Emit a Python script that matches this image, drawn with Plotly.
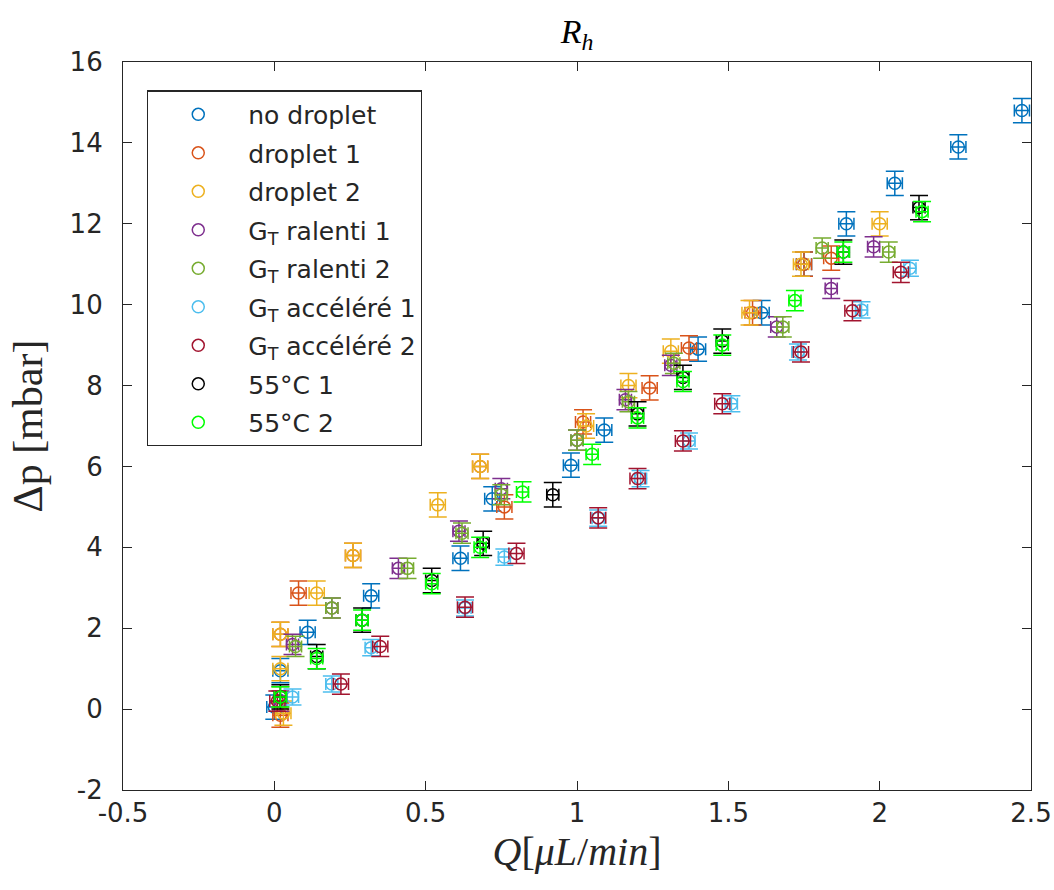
import plotly.graph_objects as go

names = ["no droplet", "droplet 1", "droplet 2", "G<sub>T</sub> ralenti 1", "G<sub>T</sub> ralenti 2",
         "G<sub>T</sub> accéléré 1", "G<sub>T</sub> accéléré 2", "55°C 1", "55°C 2"]
colors = ["#0072BD", "#D95319", "#EDB120", "#7E2F8E", "#77AC30", "#4DBEEE", "#A2142F", "#000000", "#00FF00"]

q_no = [0.0, 0.02, 0.11, 0.32, 0.615, 0.72, 0.98, 1.09, 1.40, 1.61, 1.75, 1.89, 2.05, 2.26, 2.47]
dp_no = [0.05, 0.95, 1.9, 2.8, 3.73, 5.2, 6.03, 6.9, 8.9, 9.8, 11.0, 12.0, 13.0, 13.9, 14.8]

q_d1 = [0.02, 0.02, 0.08, 0.26, 0.68, 0.76, 1.02, 1.24, 1.37, 1.58, 1.75, 1.84]
dp_d1 = [-0.15, 1.85, 2.87, 3.8, 6.0, 5.0, 7.1, 7.94, 8.93, 9.8, 11.0, 11.15]

q_d2 = [0.03, 0.02, 0.02, 0.14, 0.26, 0.54, 0.68, 1.03, 1.17, 1.31, 1.57, 1.74, 2.0]
dp_d2 = [-0.1, 1.0, 1.85, 2.87, 3.8, 5.05, 6.0, 7.0, 8.0, 8.85, 9.8, 11.0, 12.0]

q_r1 = [0.02, 0.06, 0.19, 0.41, 0.61, 0.75, 1.0, 1.16, 1.31, 1.66, 1.84, 1.98]
dp_r1 = [0.2, 1.6, 2.5, 3.48, 4.4, 5.45, 6.65, 7.65, 8.5, 9.45, 10.4, 11.43]

q_r2 = [0.02, 0.07, 0.19, 0.44, 0.62, 0.75, 1.0, 1.17, 1.32, 1.68, 1.81, 2.03]
dp_r2 = [0.3, 1.55, 2.5, 3.48, 4.35, 5.3, 6.65, 7.6, 8.55, 9.45, 11.4, 11.3]

q_a1 = [0.06, 0.19, 0.32, 0.63, 0.76, 1.07, 1.21, 1.37, 1.51, 1.73, 1.94, 2.10]
dp_a1 = [0.3, 0.62, 1.52, 2.5, 3.76, 4.72, 5.7, 6.63, 7.55, 8.83, 9.87, 10.9]

q_a2 = [0.01, 0.22, 0.35, 0.63, 0.80, 1.07, 1.20, 1.35, 1.48, 1.74, 1.91, 2.07]
dp_a2 = [0.2, 0.62, 1.55, 2.52, 3.85, 4.73, 5.7, 6.63, 7.55, 8.83, 9.85, 10.8]

q_t1 = [0.02, 0.14, 0.29, 0.52, 0.69, 0.92, 1.2, 1.35, 1.48, 1.88, 2.13]
dp_t1 = [0.3, 1.3, 2.2, 3.18, 4.1, 5.3, 7.3, 8.2, 9.1, 11.3, 12.4]

q_t2 = [0.02, 0.14, 0.29, 0.52, 0.68, 0.82, 1.05, 1.2, 1.35, 1.48, 1.72, 1.88, 2.14]
dp_t2 = [0.3, 1.25, 2.2, 3.1, 4.0, 5.37, 6.3, 7.2, 8.1, 9.0, 10.1, 11.3, 12.3]

q_series = [q_no, q_d1, q_d2, q_r1, q_r2, q_a1, q_a2, q_t1, q_t2]
dp_series = [dp_no, dp_d1, dp_d2, dp_r1, dp_r2, dp_a1, dp_a2, dp_t1, dp_t2]
q_err = [0.025, 0.025, 0.025, 0.02, 0.02, 0.02, 0.025, 0.02, 0.02]
dp_err = [0.3, 0.3, 0.3, 0.25, 0.25, 0.2, 0.25, 0.3, 0.25]

x_ticks = [-0.5, 0, 0.5, 1, 1.5, 2, 2.5]
x_ticklabels = ["-0.5", "0", "0.5", "1", "1.5", "2", "2.5"]
y_ticks = [-2, 0, 2, 4, 6, 8, 10, 12, 14, 16]
y_ticklabels = ["-2", "0", "2", "4", "6", "8", "10", "12", "14", "16"]

fig = go.Figure()
for name, col, q, dp, qe, de in zip(names, colors, q_series, dp_series, q_err, dp_err):
    fig.add_trace(go.Scatter(
        x=q, y=dp, mode="markers", name=name, legendgroup=name,
        marker=dict(symbol="circle-open", size=12, color=col, line=dict(width=1.5, color=col)),
        error_y=dict(type="constant", value=de, color=col, thickness=1.5, width=9),
        error_x=dict(type="constant", value=qe, color=col, thickness=1.5, width=6),
    ))

axis_common = dict(showline=True, linecolor="#262626", linewidth=1.2, mirror="ticks",
                   ticks="inside", ticklen=9, tickcolor="#262626", showgrid=False, zeroline=False,
                   automargin=False, ticklabeloverflow="allow",
                   tickfont=dict(family="DejaVu Sans", size=26, color="#262626"))

fig.update_layout(
    width=1054, height=890,
    margin=dict(l=123, r=23, t=62, b=100),
    plot_bgcolor="white", paper_bgcolor="white",
    title=dict(text="<i>R<sub>h</sub></i>", x=0.5, xanchor="center", xref="paper",
               y=1 - 31 / 890, yref="container", yanchor="middle",
               font=dict(family="Liberation Serif", size=34, color="black")),
    xaxis=dict(range=[-0.5, 2.5], tickvals=x_ticks, ticktext=x_ticklabels,
               title=dict(text="<i>Q</i>[<i>μL</i>/<i>min</i>]", standoff=9,
                          font=dict(family="Liberation Serif", size=40, color="#262626")),
               **axis_common),
    yaxis=dict(range=[-2, 16], tickvals=y_ticks, ticktext=y_ticklabels, ticklabelstandoff=14,
               title=dict(text="Δp [mbar]", standoff=13,
                          font=dict(family="Liberation Serif", size=42, color="#262626")),
               **axis_common),
    legend=dict(x=0.0265, y=0.961, xanchor="left", yanchor="top",
                bordercolor="#262626", borderwidth=1.2, bgcolor="white",
                font=dict(family="DejaVu Sans", size=25, color="#262626"),
                traceorder="grouped", tracegroupgap=3, itemwidth=90),
    showlegend=True,
)

fig.write_html("out.html", config={"displayModeBar": False},
               post_script="document.body.style.margin='0';")
